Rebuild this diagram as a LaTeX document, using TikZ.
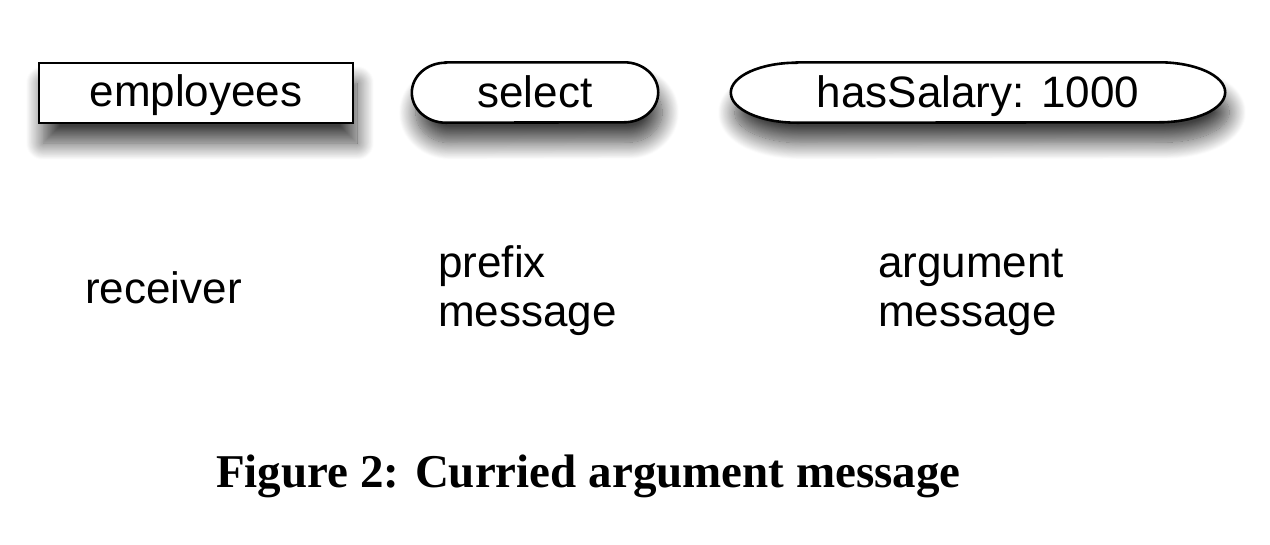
\documentclass[tikz,border=0pt]{standalone}
\usepackage{fontspec}
\setmainfont{Liberation Serif}
\newfontfamily\helv{Liberation Sans}
\usepackage{tikz}
\usetikzlibrary{calc,shadows.blur}

\tikzset{
  dropshade/.style={blur shadow={shadow xshift=4pt,shadow yshift=-20pt,shadow blur radius=17pt,shadow opacity=75,shadow blur steps=20}},
  msgtext/.style={font=\helv\fontsize{44}{49}\selectfont,inner sep=0pt},
  parttext/.style={msgtext,minimum height=60pt,text height=36pt,text depth=9pt},
  partbox/.style={parttext,draw,line width=2.8pt,fill=white,dropshade},
  capline/.style={draw,line width=2.6pt,fill=white,dropshade},
  rolelabel/.style={msgtext,anchor=base west}
}

% capsule outline round a node: name, end radius
\newcommand{\capsule}[2]{%
  \draw[capline] ($(#1.north west)+(#2,0)$) -- ($(#1.north east)-(#2,0)$)
    arc[start angle=90,end angle=-90,x radius=#2,y radius=30]
    -- ($(#1.south west)+(#2,0)$)
    arc[start angle=270,end angle=90,x radius=#2,y radius=30] -- cycle;}

\begin{document}
\begin{tikzpicture}[x=1pt,y=1pt]
            \useasboundingbox (0,0) rectangle (1270,-544);

            % Message parts
            \node[partbox,minimum width=314pt] (employees) at (196,-93) {employees};
            \node[parttext,minimum width=246pt] (select) at (535,-92.5) {};
            \node[parttext,minimum width=494pt] (hasSalary) at (978,-92.5) {};

            % Capsule outlines
            \capsule{select}{34}
            \capsule{hasSalary}{66}

            % Capsule texts
            \node[parttext] (selectText) at ($(select)+(0,-1)$) {select};
            \node[parttext] (hasSalaryText) at ($(hasSalary)+(0,-1)$) {hasSalary: 1000};

            % Role labels
            \node[rolelabel] (receiver) at (85,-303) {receiver};
            \node[rolelabel] (prefix) at (438,-277) {prefix};
            \node[rolelabel] (prefixMsg) at (438,-326) {message};
            \node[rolelabel] (argument) at (878,-277) {argument};
            \node[rolelabel] (argumentMsg) at (878,-326) {message};

            % Caption
            \node[anchor=base west,inner sep=0pt,font=\bfseries\fontsize{47}{56}\selectfont] (caption) at (216,-487) {Figure 2: Curried argument message};

\end{tikzpicture}
\end{document}
